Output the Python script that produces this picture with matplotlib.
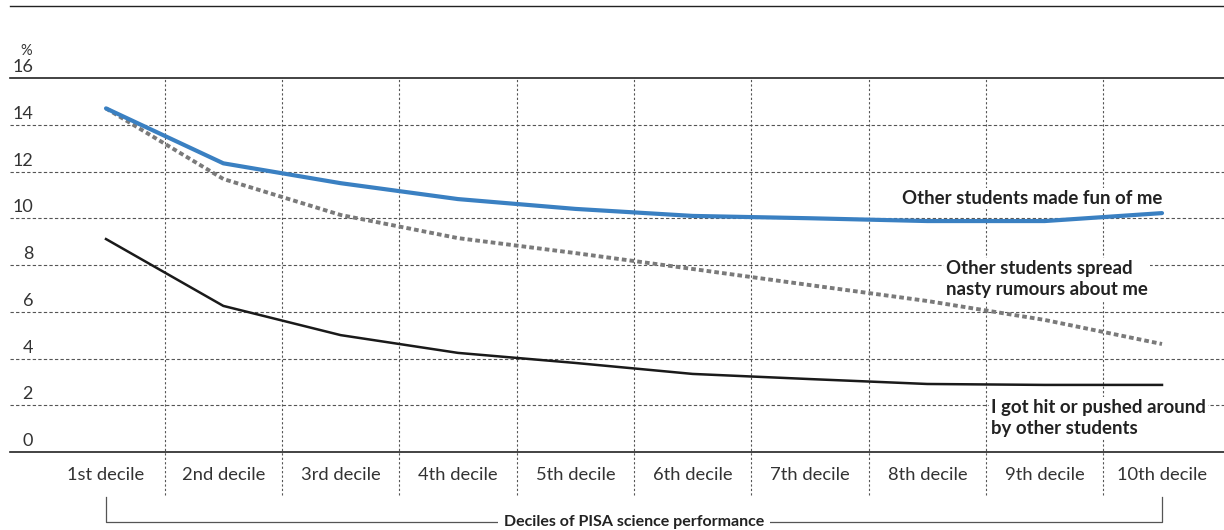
import matplotlib.pyplot as plt
from matplotlib.lines import Line2D
import matplotlib.transforms as mtransforms

plt.rcParams['font.family'] = ['Lato', 'DejaVu Sans']

deciles = ["1st decile", "2nd decile", "3rd decile", "4th decile", "5th decile",
           "6th decile", "7th decile", "8th decile", "9th decile", "10th decile"]
made_fun = [14.7, 12.35, 11.5, 10.82, 10.4, 10.1, 10.0, 9.88, 9.88, 10.22]
rumours = [14.7, 11.68, 10.14, 9.15, 8.51, 7.83, 7.14, 6.46, 5.65, 4.62]
hit = [9.11, 6.25, 5.0, 4.24, 3.81, 3.34, 3.12, 2.91, 2.87, 2.87]
yticks = [0, 2, 4, 6, 8, 10, 12, 14, 16]

W, H = 1224, 530
fig = plt.figure(figsize=(W / 100, H / 100), dpi=100)
ax = fig.add_axes([10 / W, 1 - 452 / H, 1 - 10 / W, 374 / H])

x = list(range(len(deciles)))
step = (1162 - 106) / 9.0
ax.set_xlim(-(106 - 10) / step, (1224 - 106) / step)
ax.set_ylim(0, 16)
ax.axis('off')

# horizontal grid and y labels sitting above the lines
tr = mtransforms.blended_transform_factory(fig.transFigure, ax.transData)
for v in yticks:
    if v in (0, 16):
        ax.axhline(v, color='#222222', lw=1.2, zorder=1, clip_on=False)
    else:
        ax.axhline(v, color='#555555', lw=0.8, ls=(0, (3, 2)), zorder=1)
    ax.text(33 / W, v + 0.12, str(v), transform=tr, ha='right', va='bottom',
            fontsize=13, color='#333333')
fig.text(20 / W, 1 - 51 / H, "%", fontsize=10.5, color='#333333', ha='left', va='center')

# vertical grid, extending below the axis
for i in range(len(deciles) - 1):
    ax.add_line(Line2D([i + 0.5, i + 0.5], [-43 / 374 * 16, 16], color='#555555', lw=0.8,
                       ls=(0, (2, 2)), clip_on=False, zorder=1))

ax.plot(x, made_fun, color='#3a80c2', lw=3, solid_capstyle='round', zorder=4)
ax.plot(x, rumours, color='#7a7a7a', lw=2.8, ls=(0, (1.2, 0.8)), zorder=3)
ax.plot(x, hit, color='#1a1a1a', lw=1.8, zorder=3)

for i, lab in enumerate(deciles):
    ax.text(i, -1.0, lab, ha='center', va='center', fontsize=13.2, color='#333333')

bbox = dict(facecolor='white', edgecolor='none', pad=1.5)
ax.text(9.0, 10.85, "Other students made fun of me", ha='right', va='center',
        fontsize=13.4, fontweight='bold', color='#222222', bbox=bbox, zorder=5)
ax.text((946 - 106) / step, 7.4, "Other students spread\nnasty rumours about me",
        ha='left', va='center', fontsize=13.4, fontweight='bold', color='#222222',
        linespacing=1.25, bbox=bbox, zorder=5)
ax.text((991 - 106) / step, 1.45, "I got hit or pushed around\nby other students",
        ha='left', va='center', fontsize=13.4, fontweight='bold', color='#222222',
        linespacing=1.25, bbox=bbox, zorder=5)

# bracket under the x axis
yb0 = -(497 - 452) / 374 * 16
yb1 = -(522 - 452) / 374 * 16
ax.add_line(Line2D([0, 0, 9, 9], [yb0, yb1, yb1, yb0], color='#555555', lw=0.9,
                   clip_on=False))
ax.text(4.5, yb1, "Deciles of PISA science performance", ha='center', va='center',
        fontsize=11.5, fontweight='bold', color='#222222',
        bbox=dict(facecolor='white', edgecolor='none', pad=4))

# top rule
fig.add_artist(Line2D([10 / W, 1], [1 - 6 / H, 1 - 6 / H], color='#222222', lw=1.0))

fig.savefig('out.png', dpi=100)
